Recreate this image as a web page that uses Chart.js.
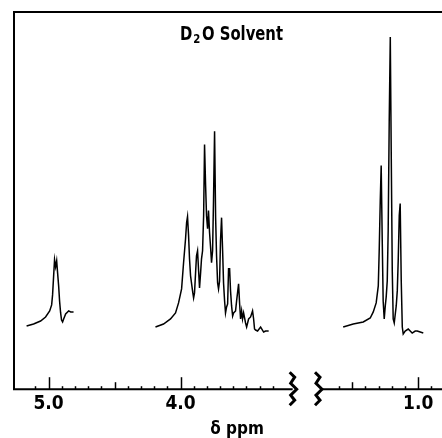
<!DOCTYPE html>
<html>
<head>
<meta charset="utf-8">
<script src="https://cdn.jsdelivr.net/npm/chart.js@4/dist/chart.umd.min.js"></script>
<style>
  body { margin: 0; background: #fff; }
</style>
</head>
<body>
<canvas id="nmrChart" width="442" height="438"></canvas>
<script>
// Разрыв оси: метильная область (< 2.5 ppm) сдвинута влево на SHIFT
const SHIFT = 1.198;
const AXIS_MIN = 0.82;
const AXIS_MAX = 5.27;
const BREAK_LEFT = 3.15;
const BREAK_RIGHT = 1.76;

// Аномерный сигнал ~4.95 ppm
const anomericPpm = [5.167, 5.114, 5.061, 5.023, 4.992, 4.977, 4.970, 4.962, 4.955, 4.947, 4.939,
  4.932, 4.924, 4.917, 4.909, 4.902, 4.894, 4.886, 4.871, 4.848, 4.833, 4.811];
const anomericHeight = [63, 65, 68, 72, 78, 84, 94, 113, 129, 122, 128,
  116, 103, 88, 76, 69, 67, 70, 75, 78, 77, 77];

// Протоны кольца 3.3 - 4.2 ppm
const ringPpm = [4.190, 4.129, 4.076, 4.038, 4.015, 3.992, 3.977, 3.962, 3.954, 3.947, 3.939,
  3.932, 3.924, 3.909, 3.901, 3.894, 3.886, 3.879, 3.871, 3.863, 3.856, 3.848, 3.841, 3.833,
  3.825, 3.818, 3.810, 3.803, 3.795, 3.788, 3.780, 3.772, 3.765, 3.757, 3.750, 3.742, 3.734,
  3.727, 3.719, 3.712, 3.704, 3.697, 3.689, 3.681, 3.674, 3.666, 3.659, 3.651, 3.643, 3.636,
  3.628, 3.621, 3.613, 3.605, 3.598, 3.583, 3.575, 3.560, 3.552, 3.545, 3.537, 3.530, 3.522,
  3.507, 3.499, 3.484, 3.469, 3.454, 3.446, 3.439, 3.431, 3.416, 3.393, 3.370, 3.355, 3.332];
const ringHeight = [62, 65, 70, 76, 86, 100, 126, 150, 166, 172, 153,
  130, 113, 98, 91, 96, 116, 133, 138, 118, 101, 116, 130, 138,
  173, 244, 203, 173, 160, 178, 156, 141, 126, 138, 188, 257, 171,
  133, 106, 100, 108, 148, 171, 138, 106, 88, 76, 82, 85, 120,
  120, 98, 83, 73, 76, 78, 88, 105, 85, 70, 78, 70, 76,
  66, 62, 70, 72, 78, 70, 60, 59, 58, 62, 57, 58, 58];

// Метильная область ~1.2 ppm
const methylPpm = [1.569, 1.493, 1.417, 1.364, 1.341, 1.319, 1.303, 1.296, 1.288, 1.281, 1.273,
  1.266, 1.258, 1.250, 1.243, 1.235, 1.228, 1.220, 1.212, 1.205, 1.197, 1.190, 1.182, 1.175,
  1.167, 1.159, 1.152, 1.144, 1.137, 1.129, 1.121, 1.114, 1.099, 1.076, 1.061, 1.046, 1.023,
  1.008, 0.985, 0.962];
const methylHeight = [62, 65, 67, 71, 77, 86, 103, 138, 188, 223, 148,
  88, 70, 83, 92, 108, 158, 268, 351, 238, 118, 70, 66, 74,
  83, 98, 128, 173, 185, 108, 62, 55, 58, 60, 58, 56, 58,
  58, 57, 56];

const majorTickPpm = [5.0, 4.0, 1.0];
const majorTickLabels = ['5.0', '4.0', '1.0'];
const mediumTickPpm = [4.5, 1.5];
const minorTickPpm = [5.1, 4.9, 4.8, 4.7, 4.6, 4.4, 4.3, 4.2, 4.1, 3.9, 3.8, 3.7, 3.6, 3.5, 3.4, 3.3,
  1.6, 1.4, 1.3, 1.2, 1.1, 0.9];

const FONT = "'Liberation Sans Narrow', 'DejaVu Sans Condensed', 'Roboto Condensed', 'Liberation Sans', sans-serif";

function toAxis(ppm) {
  return ppm < 2.5 ? ppm + SHIFT : ppm;
}

function toPoints(ppm, height) {
  return ppm.map((p, i) => ({ x: toAxis(p), y: height[i] }));
}

const lineStyle = {
  borderColor: '#000',
  borderWidth: 1.5,
  pointRadius: 0,
  tension: 0,
  fill: false,
};

// Рамка, ось с разрывом, засечки и подписи
const brokenAxisPlugin = {
  id: 'brokenAxis',
  afterDraw(chart) {
    const ctx = chart.ctx;
    const area = chart.chartArea;
    const xs = chart.scales.x;
    const y0 = area.bottom;
    ctx.save();
    ctx.strokeStyle = '#000';
    ctx.fillStyle = '#000';

    ctx.lineWidth = 2;
    ctx.beginPath();
    ctx.moveTo(area.left + 1, y0);
    ctx.lineTo(area.left + 1, area.top);
    ctx.lineTo(area.right, area.top);
    ctx.stroke();

    const b1 = xs.getPixelForValue(toAxis(BREAK_LEFT));
    const b2 = xs.getPixelForValue(toAxis(BREAK_RIGHT));
    ctx.beginPath();
    ctx.moveTo(area.left, y0);
    ctx.lineTo(b1, y0);
    ctx.moveTo(b2 + 3, y0);
    ctx.lineTo(area.right, y0);
    ctx.stroke();

    ctx.lineWidth = 1.5;
    const tick = (ppm, len) => {
      const x = Math.round(xs.getPixelForValue(toAxis(ppm))) + 0.5;
      ctx.beginPath();
      ctx.moveTo(x, y0);
      ctx.lineTo(x, y0 - len);
      ctx.stroke();
    };
    majorTickPpm.forEach((p) => tick(p, 12));
    mediumTickPpm.forEach((p) => tick(p, 7));
    minorTickPpm.forEach((p) => tick(p, 3));

    // зигзаги разрыва
    ctx.lineWidth = 3;
    const zig = [[-3, -17], [2, -12], [-2, -6], [4, 0], [-2, 6], [2, 11], [-3, 16]];
    [b1, b2].forEach((bx) => {
      ctx.beginPath();
      zig.forEach(([dx, dy], i) => {
        if (i === 0) ctx.moveTo(bx + dx, y0 + dy);
        else ctx.lineTo(bx + dx, y0 + dy);
      });
      ctx.stroke();
    });

    // D2O Solvent (сжатый по ширине, как в оригинале)
    ctx.textBaseline = 'alphabetic';
    ctx.textAlign = 'left';
    const big = 'bold 19px ' + FONT;
    const small = 'bold 13px ' + FONT;
    ctx.font = big;
    const wD = ctx.measureText('D').width;
    const wRest = ctx.measureText('O Solvent').width;
    ctx.font = small;
    const w2 = ctx.measureText('2').width + 3;
    const sx = 103 / (wD + w2 + wRest);
    ctx.translate(180, 40);
    ctx.scale(sx, 1);
    ctx.font = big;
    ctx.fillText('D', 0, 0);
    ctx.font = small;
    ctx.fillText('2', wD + 1, 3);
    ctx.font = big;
    ctx.fillText('O Solvent', wD + w2, 0);
    ctx.setTransform(1, 0, 0, 1, 0, 0);

    // подпись оси
    ctx.font = 'bold 17px ' + FONT;
    ctx.textAlign = 'center';
    ctx.fillText('δ ppm', 237, 434);
    ctx.restore();
  },
};

new Chart(document.getElementById('nmrChart'), {
  type: 'line',
  data: {
    datasets: [
      { ...lineStyle, data: toPoints(anomericPpm, anomericHeight) },
      { ...lineStyle, data: toPoints(ringPpm, ringHeight) },
      { ...lineStyle, data: toPoints(methylPpm, methylHeight) },
    ],
  },
  options: {
    responsive: false,
    animation: false,
    layout: { padding: { left: 13, top: 12, right: 0, bottom: 20 } },
    plugins: {
      legend: { display: false },
      tooltip: { enabled: false },
    },
    scales: {
      x: {
        type: 'linear',
        reverse: true,
        min: AXIS_MIN + SHIFT,
        max: AXIS_MAX,
        grid: { display: false, drawTicks: false },
        border: { display: false },
        afterBuildTicks: (scale) => {
          scale.ticks = majorTickPpm.map((p) => ({ value: toAxis(p) }));
        },
        ticks: {
          autoSkip: false,
          maxRotation: 0,
          padding: 3,
          color: '#000',
          font: { family: FONT, size: 19, weight: 'bold' },
          callback: (value, index) => majorTickLabels[index],
        },
      },
      y: {
        display: false,
        min: 0,
        max: 376,
      },
    },
  },
  plugins: [brokenAxisPlugin],
});
</script>
</body>
</html>
